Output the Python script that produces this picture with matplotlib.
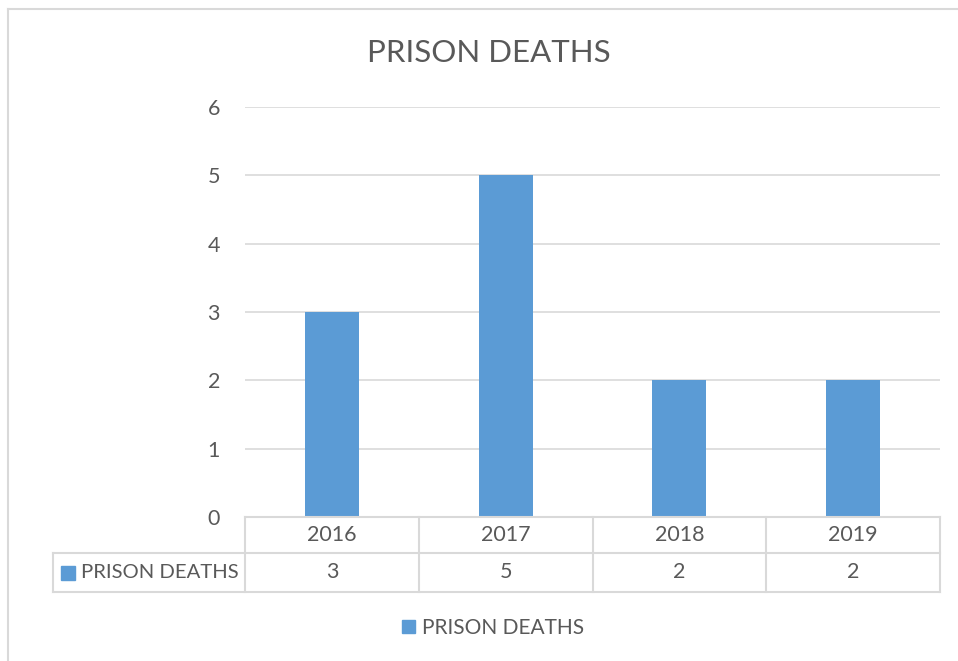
import matplotlib.pyplot as plt
from matplotlib.lines import Line2D
from matplotlib.patches import Patch
import matplotlib.transforms as mtrans

years = ['2016', '2017', '2018', '2019']
deaths = [3, 5, 2, 2]
series_name = 'PRISON DEATHS'
y_ticks = [0, 1, 2, 3, 4, 5, 6]

BAR = '#5b9bd5'
TXT = '#595959'
GRID = '#d9d9d9'
plt.rcParams['font.family'] = ['Lato', 'DejaVu Sans']

W, H = 958, 661
fig = plt.figure(figsize=(W / 100, H / 100), dpi=100)


def fx(px):
    return px / W


def fy(py):
    return 1 - py / H


# outer chart border (only top and left visible in the crop)
fig.add_artist(Line2D([fx(8), fx(958)], [fy(9), fy(9)], color=GRID, lw=1.5))
fig.add_artist(Line2D([fx(8), fx(8)], [fy(9), fy(661)], color=GRID, lw=1.5))

ax = fig.add_axes([fx(245), fy(517), fx(940) - fx(245), fy(107) - fy(517)])
x = range(len(years))
ax.bar(x, deaths, width=0.31, color=BAR, zorder=2)
ax.set_xlim(-0.5, len(years) - 0.5)
ax.set_ylim(0, 6)
ax.set_yticks(y_ticks)
ax.yaxis.grid(True, color=GRID, lw=1.2, zorder=0)
ax.set_xticks([])
for s in ax.spines.values():
    s.set_visible(False)
ax.tick_params(axis='y', length=0, pad=18, labelsize=15.5, labelcolor=TXT)

fig.text(fx(489), fy(53), 'PRISON DEATHS', ha='center', va='center',
         fontsize=22.5, color=TXT)

# data table under the axis
ah = 517 - 107
r1 = -(553 - 517) / ah
r2 = -(592 - 517) / ah
left = (53 - 245) / 695
lkw = dict(color=GRID, lw=1.5, clip_on=False, transform=ax.transAxes)
ax.plot([0, 1], [0, 0], **lkw)
ax.plot([left, 1], [r1, r1], **lkw)
ax.plot([left, 1], [r2, r2], **lkw)
ax.plot([left, left], [r1, r2], **lkw)
for i in range(len(years) + 1):
    xa = i / len(years)
    ax.plot([xa, xa], [0, r2], **lkw)

tr = mtrans.blended_transform_factory(ax.transData, ax.transAxes)
for i, (yr, v) in enumerate(zip(years, deaths)):
    ax.text(i, r1 / 2, yr, ha='center', va='center', fontsize=15.5,
            color=TXT, transform=tr)
    ax.text(i, (r1 + r2) / 2, str(v), ha='center', va='center', fontsize=15.5,
            color=TXT, transform=tr)

ax.plot([(68 - 245) / 695], [(r1 + r2) / 2], marker='s', ms=10.5, color=BAR,
        clip_on=False, transform=ax.transAxes)
ax.text((81 - 245) / 695, (r1 + r2) / 2, series_name, ha='left', va='center',
        fontsize=14.6, color=TXT, transform=ax.transAxes)

fig.legend(handles=[Patch(color=BAR, label=series_name)], loc='center',
           bbox_to_anchor=(fx(493), fy(628)), frameon=False, fontsize=15,
           handlelength=0.6, handleheight=0.6, handletextpad=0.35,
           labelcolor=TXT)

fig.savefig('out.png', dpi=100)
